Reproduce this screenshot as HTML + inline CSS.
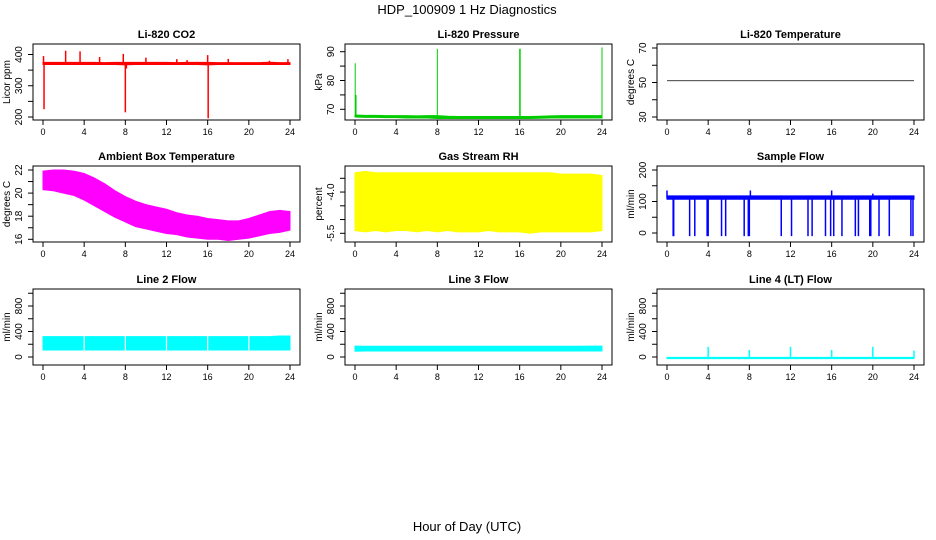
<!DOCTYPE html>
<html><head><meta charset="utf-8"><style>
html,body{margin:0;padding:0;background:#fff;}
svg{display:block;font-family:"Liberation Sans",sans-serif;}
</style></head><body>
<svg id="c" width="936" height="540" viewBox="0 0 936 540">
<text x="467" y="14" font-size="13" text-anchor="middle">HDP_100909  1 Hz Diagnostics</text>
<text x="467" y="531" font-size="13" text-anchor="middle">Hour of Day (UTC)</text>
</svg>
<script>
// x ticks
const xTicks=[0,4,8,12,16,20,24];
const hours=[0,1,2,3,4,5,6,7,8,9,10,11,12,13,14,15,16,17,18,19,20,21,22,23,24];
// CO2
const co2Upper=[375,375,375,375,375,375,374,375,375,375,375,375,375,374,375,375,375,374,374,374,374,374,375,374,374];
const co2Lower=[368,368,368,368,368,368,368,368,367,368,368,368,368,368,368,368,367,368,368,368,368,368,368,368,368];
const co2SpikeHours=[0.05,0.1,2.2,3.6,5.5,7.8,8.0,8.1,10.0,13.0,14.0,16.0,16.05,18.0,22.0,23.8];
const co2SpikeValues=[395,225,412,410,392,402,215,355,390,385,382,398,196,386,380,385];
// Pressure
const presUpper=[68,67.9,67.9,67.8,67.8,67.8,67.7,67.8,67.8,67.6,67.5,67.5,67.5,67.5,67.5,67.5,67.5,67.5,67.6,67.7,67.8,67.8,67.8,67.8,67.8];
const presLower=[67.3,67.2,67.2,67.1,67.1,67,67,67,66.8,66.8,66.8,66.8,66.8,66.8,66.8,66.8,66.8,66.8,66.9,67,67,67,67,67,67];
const presSpikeHours=[0.02,0.1,8.0,16.0,16.05,24.0];
const presSpikeValues=[86,75,91,91,91,91.5];
// Temperature
const tempValues=[51,51,51,51,51,51,51,51,51,51,51,51,51,51,51,51,51,51,51,51,51,51,51,51,51];
// Ambient box temperature
const ambUpper=[21.9,22.0,22.0,21.9,21.7,21.3,20.8,20.2,19.7,19.3,19.0,18.8,18.6,18.3,18.1,18.0,17.8,17.7,17.6,17.6,17.8,18.1,18.4,18.5,18.4];
const ambLower=[20.3,20.2,20.0,19.8,19.4,18.9,18.4,17.9,17.5,17.1,16.9,16.7,16.5,16.4,16.2,16.1,16.0,16.0,15.9,16.0,16.1,16.3,16.5,16.6,16.8];
// Gas stream RH
const rhUpper=[-3.3,-3.25,-3.3,-3.3,-3.3,-3.3,-3.3,-3.3,-3.3,-3.3,-3.3,-3.3,-3.3,-3.3,-3.3,-3.3,-3.3,-3.3,-3.3,-3.3,-3.35,-3.35,-3.35,-3.35,-3.4];
const rhLower=[-5.4,-5.45,-5.4,-5.45,-5.4,-5.4,-5.45,-5.4,-5.45,-5.4,-5.45,-5.45,-5.45,-5.4,-5.45,-5.45,-5.45,-5.5,-5.45,-5.45,-5.45,-5.45,-5.45,-5.45,-5.4];
// Sample flow
const sfUpper=[118,118,118,118,118,118,118,118,118,118,118,118,118,118,118,118,118,118,118,118,118,118,118,118,118];
const sfLower=[107,107,107,107,107,107,107,107,107,107,107,107,107,107,107,107,107,107,107,107,107,107,107,107,107];
const sfSpikeHours=[0.0,0.6,0.65,2.2,2.7,3.9,4.0,5.3,5.7,7.5,7.9,8.0,8.1,11.1,12.1,13.7,14.1,15.4,15.9,16.0,16.2,17.0,18.3,18.6,19.7,19.8,20.0,20.6,21.6,23.7,23.9];
const sfSpikeValues=[135,-10,-10,-10,-10,-10,-10,-10,-10,-10,-10,-10,135,-10,-10,-10,-10,-10,-10,135,-10,-10,-10,-10,-10,-10,125,-10,-10,-10,-10];
// Line flows
const l2Upper=[320,320,320,320,320,320,320,320,320,320,320,320,320,320,320,320,320,320,320,320,320,320,320,330,330];
const l2Lower=[110,110,110,110,110,110,110,110,110,110,110,110,110,110,110,110,110,110,110,110,110,110,110,110,110];
const l3Upper=[170,168,168,168,168,168,168,168,168,168,168,168,168,168,168,168,168,168,168,168,168,168,168,170,170];
const l3Lower=[90,95,95,95,95,95,95,95,95,95,95,95,95,95,95,95,95,95,95,95,95,95,95,95,95];
const l4Upper=[-5,-5,-5,-5,-5,-5,-5,-5,-5,-5,-5,-5,-5,-5,-5,-5,-5,-5,-5,-5,-5,-5,-5,-5,-5];
const l4Lower=[-25,-25,-25,-25,-25,-25,-25,-25,-25,-25,-25,-25,-25,-25,-25,-25,-25,-25,-25,-25,-25,-25,-25,-25,-25];
const l4SpikeHours=[4,8,12,16,20,24];
const l4SpikeValues=[160,110,160,110,160,100];
const gapHours=[4,8,12,16,20];

const NS="http://www.w3.org/2000/svg";
const svg=document.getElementById('c');
function el(tag,attrs,parent){const e=document.createElementNS(NS,tag);for(const k in attrs)e.setAttribute(k,attrs[k]);(parent||svg).appendChild(e);return e;}
const W=267,H=76;
const colX=[33,345,657], rowY=[44,166,289];
const defs=el('defs',{});
let clipN=0;

function panel(o){
  const g=el('g',{});
  
  
  const x0=colX[o.col], y0=rowY[o.row];
  const X=h=>x0+10+h*(247/24);
  const s=(o.p2-o.p1)/(o.v2-o.v1);
  const Y=v=>o.p1+(v-o.v1)*s;
  const cid='clip'+(clipN++);
  const cp=el('clipPath',{id:cid},defs);
  el('rect',{x:x0,y:y0,width:W,height:H},cp);
  const dg=el('g',{'clip-path':`url(#${cid})`},g);
  
  
  o.draw(dg,X,Y,y0);
  const b=el('rect',{x:x0,y:y0,width:W,height:H,fill:'none',stroke:'#000','stroke-width':1},g);
  
  
  const t=el('text',{x:x0+W/2,y:y0-6,'font-size':11,'font-weight':'bold','text-anchor':'middle'},g);
  t.textContent=o.title;
  
  
  xTicks.forEach(h=>{
    el('line',{x1:X(h),x2:X(h),y1:y0+H,y2:y0+H+5,stroke:'#000'},g);
    const l=el('text',{x:X(h),y:y0+H+15,'font-size':9,'text-anchor':'middle'},g);
    l.textContent=h;
    
    
  });
  o.yTicks.forEach(v=>{
    const y=Y(v);
    el('line',{x1:x0,x2:x0-5,y1:y,y2:y,stroke:'#000'},g);
  });
  o.yLabels.forEach((v,i)=>{
    const y=Y(v);
    const l=el('text',{x:0,y:0,'font-size':10,'text-anchor':'middle',transform:`translate(${x0-11},${y}) rotate(-90)`},g);
    l.textContent=o.yLabelText[i];
    
    
  });
  const at=el('text',{x:0,y:0,'font-size':10,'text-anchor':'middle',transform:`translate(${x0-23},${y0+H/2}) rotate(-90)`},g);
  at.textContent=o.ylab;
  
  
}
function band(g,X,Y,up,lo,color,name){
  let pts=hours.map((h,i)=>X(h)+','+Y(up[i]));
  pts=pts.concat(hours.slice().reverse().map((h,j)=>X(h)+','+Y(lo[hours.length-1-j])));
  const p=el('polygon',{points:pts.join(' '),fill:color,stroke:color,'stroke-width':1},g);
  
  
}
function spikes(g,X,Y,hs,vs,base,color,w,name){
  hs.forEach((h,i)=>{
    const l=el('line',{x1:X(h),x2:X(h),y1:Y(base),y2:Y(vs[i]),stroke:color,'stroke-width':w},g);
    
    
  });
}
panel({name:'co2-panel',col:0,row:0,title:'Li-820 CO2',ylab:'Licor ppm',v1:400,p1:54.5,v2:200,p2:117,yTicks:[200,250,300,350,400],yLabels:[200,300,400],yLabelText:['200','300','400'],
 draw:(g,X,Y)=>{band(g,X,Y,co2Upper,co2Lower,'#f00','co2-series');spikes(g,X,Y,co2SpikeHours,co2SpikeValues,371,'#f00',1.5,'co2-spike');}});
panel({name:'pressure-panel',col:1,row:0,title:'Li-820 Pressure',ylab:'kPa',v1:90,p1:51.7,v2:70,p2:109.3,yTicks:[70,75,80,85,90],yLabels:[70,80,90],yLabelText:['70','80','90'],
 draw:(g,X,Y)=>{band(g,X,Y,presUpper,presLower,'#0c0','pressure-series');spikes(g,X,Y,presSpikeHours,presSpikeValues,67.5,'#0c0',1,'pressure-spike');}});
panel({name:'temperature-panel',col:2,row:0,title:'Li-820 Temperature',ylab:'degrees C',v1:70,p1:48,v2:30,p2:117,yTicks:[30,40,50,60,70],yLabels:[30,50,70],yLabelText:['30','50','70'],
 draw:(g,X,Y)=>{const p=el('polyline',{points:hours.map((h,i)=>X(h)+','+Y(tempValues[i])).join(' '),fill:'none',stroke:'#000','stroke-width':0.7},g);}});
panel({name:'ambient-temp-panel',col:0,row:1,title:'Ambient Box Temperature',ylab:'degrees C',v1:22,p1:170,v2:16,p2:239.3,yTicks:[16,17,18,19,20,21,22],yLabels:[16,18,20,22],yLabelText:['16','18','20','22'],
 draw:(g,X,Y)=>{band(g,X,Y,ambUpper,ambLower,'#f0f','ambient-series');}});
panel({name:'rh-panel',col:1,row:1,title:'Gas Stream RH',ylab:'percent',v1:-3.5,p1:178.3,v2:-5.5,p2:233.3,yTicks:[-3.5,-4,-4.5,-5,-5.5],yLabels:[-4,-5.5],yLabelText:['-4.0','-5.5'],
 draw:(g,X,Y)=>{band(g,X,Y,rhUpper,rhLower,'#ff0','rh-series');}});
panel({name:'sample-flow-panel',col:2,row:1,title:'Sample Flow',ylab:'ml/min',v1:200,p1:170,v2:0,p2:233,yTicks:[0,50,100,150,200],yLabels:[0,100,200],yLabelText:['0','100','200'],
 draw:(g,X,Y)=>{band(g,X,Y,sfUpper,sfLower,'#00f','sample-flow-series');spikes(g,X,Y,sfSpikeHours,sfSpikeValues,110,'#00f',1.5,'sample-flow-spike');}});
const flowCfg={v1:800,p1:306,v2:0,p2:357,yTicks:[0,200,400,600,800,1000],yLabels:[0,400,800],yLabelText:['0','400','800'],ylab:'ml/min'};
panel(Object.assign({name:'line2-flow-panel',col:0,row:2,title:'Line 2 Flow',
 draw:(g,X,Y)=>{band(g,X,Y,l2Upper,l2Lower,'#0ff','line2-series');gapHours.forEach(h=>{const l=el('line',{x1:X(h),x2:X(h),y1:Y(340),y2:Y(100),stroke:'#fff','stroke-width':1.2},g);});}},flowCfg));
panel(Object.assign({name:'line3-flow-panel',col:1,row:2,title:'Line 3 Flow',
 draw:(g,X,Y)=>{band(g,X,Y,l3Upper,l3Lower,'#0ff','line3-series');}},flowCfg));
panel(Object.assign({name:'line4-flow-panel',col:2,row:2,title:'Line 4 (LT) Flow',
 draw:(g,X,Y)=>{band(g,X,Y,l4Upper,l4Lower,'#0ff','line4-series');spikes(g,X,Y,l4SpikeHours,l4SpikeValues,-15,'#0ff',1.5,'line4-spike');}},flowCfg));
</script>
</body></html>
